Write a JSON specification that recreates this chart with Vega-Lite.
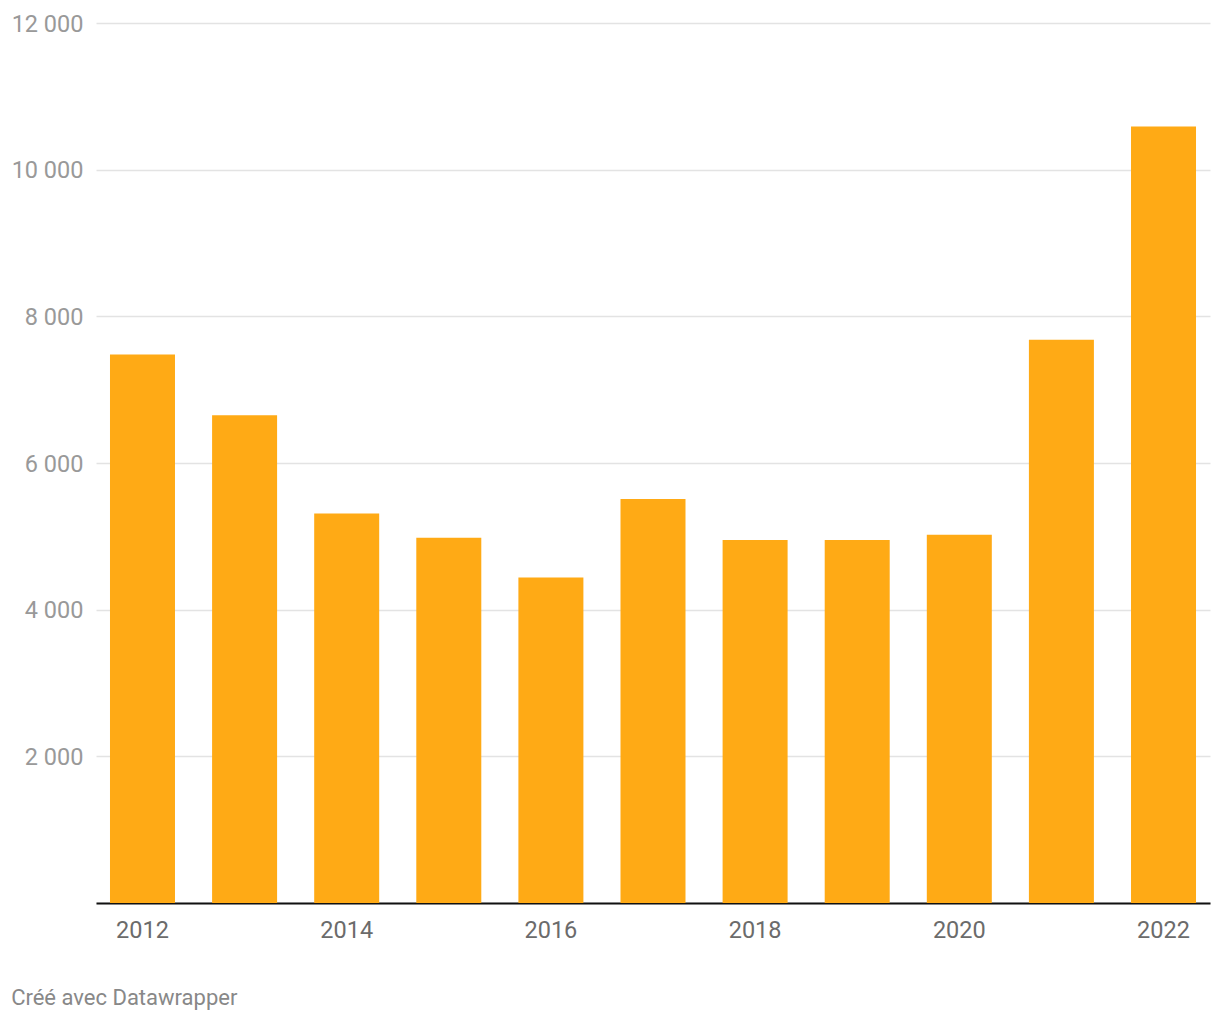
{
  "$schema": "https://vega.github.io/schema/vega-lite/v6.json",
  "width": 1114,
  "height": 880,
  "autosize": {"type": "none"},
  "padding": {"left": 96, "top": 23, "right": 10, "bottom": 117},
  "background": "white",
  "config": {"view": {"stroke": null}, "font": "Roboto"},
  "title": {
    "text": "Créé avec Datawrapper",
    "orient": "bottom",
    "anchor": "start",
    "frame": "bounds",
    "font": "Roboto",
    "fontSize": 22,
    "fontWeight": "normal",
    "color": "#888888",
    "offset": 46
  },
  "data": {
    "values": [
      {"year": "2012", "value": 7480},
      {"year": "2013", "value": 6650},
      {"year": "2014", "value": 5310},
      {"year": "2015", "value": 4980},
      {"year": "2016", "value": 4440},
      {"year": "2017", "value": 5510},
      {"year": "2018", "value": 4950},
      {"year": "2019", "value": 4950},
      {"year": "2020", "value": 5020},
      {"year": "2021", "value": 7680},
      {"year": "2022", "value": 10590}
    ]
  },
  "mark": {"type": "bar", "color": "#FFAA15"},
  "encoding": {
    "x": {
      "field": "year",
      "type": "ordinal",
      "scale": {"paddingInner": 0.3634, "paddingOuter": 0.137},
      "axis": {
        "title": null,
        "labelAngle": 0,
        "values": ["2012", "2014", "2016", "2018", "2020", "2022"],
        "labelFontSize": 23.5,
        "labelColor": "#6b6b6b",
        "labelPadding": 15,
        "ticks": false,
        "domainColor": "#111111",
        "domainWidth": 2,
        "grid": false
      }
    },
    "y": {
      "field": "value",
      "type": "quantitative",
      "scale": {"domain": [0, 12000], "nice": false},
      "axis": {
        "title": null,
        "values": [0, 2000, 4000, 6000, 8000, 10000, 12000],
        "labelExpr": "datum.value == 0 ? '' : replace(format(datum.value, ','), ',', ' ')",
        "labelFontSize": 23.5,
        "labelColor": "#999999",
        "labelPadding": 13,
        "labelOffset": 1,
        "ticks": false,
        "domain": false,
        "grid": true,
        "gridColor": "#e3e3e3",
        "gridWidth": 1.5
      }
    }
  }
}
